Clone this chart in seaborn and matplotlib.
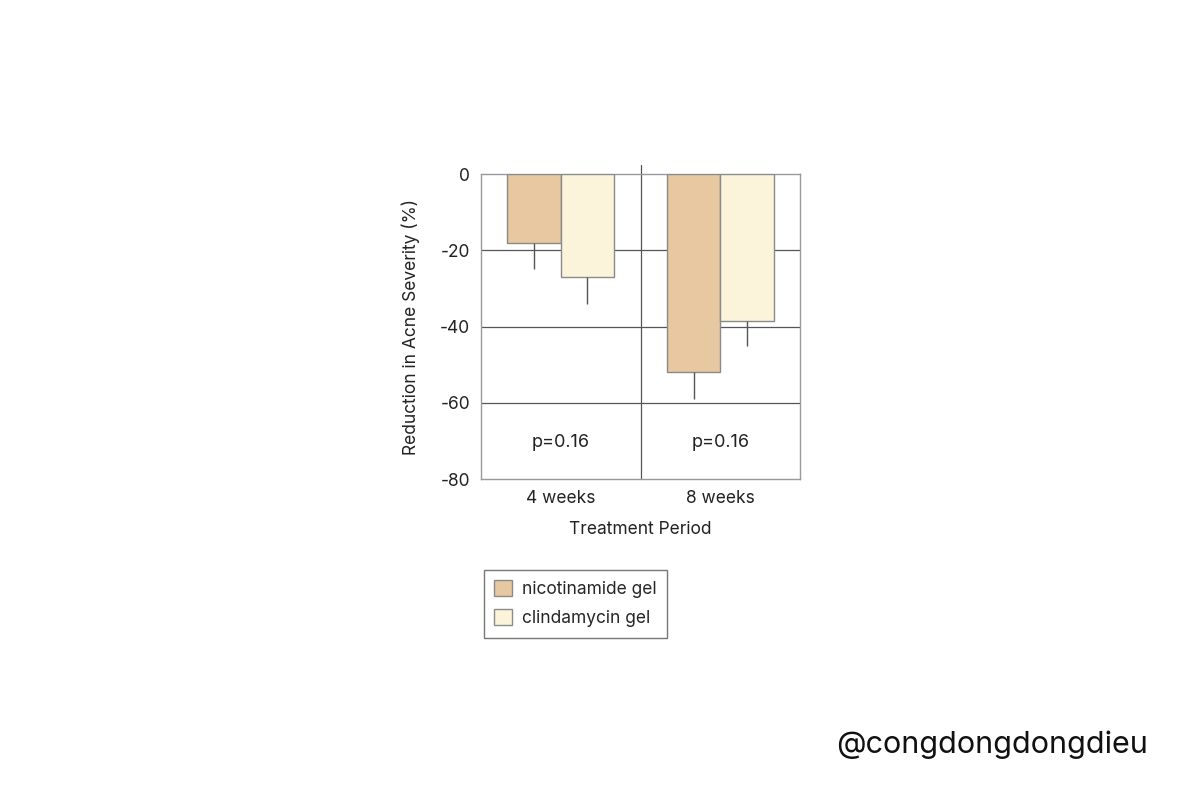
import matplotlib
matplotlib.use("Agg")
import matplotlib.pyplot as plt
import seaborn as sns
import pandas as pd
import numpy as np
from matplotlib.patches import Patch

periods = ["4 weeks", "8 weeks"]
treatments = ["nicotinamide gel", "clindamycin gel"]
nicotinamide = [-18, -52]
clindamycin = [-27, -38.5]
nicotinamide_err = [7, 7]
clindamycin_err = [7, 6.5]
p_values = ["p=0.16", "p=0.16"]
colors = ["#E7C8A0", "#FCF4DA"]

sns.set_theme(style="white")
plt.rcParams["font.family"] = ["Inter", "DejaVu Sans"]

df = pd.DataFrame({
    "period": periods * 2,
    "treatment": [treatments[0]] * 2 + [treatments[1]] * 2,
    "value": nicotinamide + clindamycin,
})

fig = plt.figure(figsize=(12.01, 8.01), dpi=100)
ax = fig.add_axes([481 / 1201, 1 - 479 / 801, 319 / 1201, 305 / 801])

sns.barplot(data=df, x="period", y="value", hue="treatment", hue_order=treatments,
            palette=colors, saturation=1, width=0.67, edgecolor="#8a8a8a", linewidth=1.0,
            errorbar=None, ax=ax, legend=False, zorder=3)

# one-sided error bars (downward)
errs = nicotinamide_err + clindamycin_err
vals = nicotinamide + clindamycin
for patch, v, e in zip(ax.patches, vals, errs):
    cx = patch.get_x() + patch.get_width() / 2
    ax.errorbar(cx, v, yerr=[[e], [0]], fmt="none", ecolor="#555555",
                elinewidth=1.0, capsize=0, zorder=4)

ax.set_ylim(-80, 0)
ax.set_xlim(-0.5, 1.5)
ax.set_yticks([0, -20, -40, -60, -80])
ax.set_yticklabels(["0", "-20", "-40", "-60", "-80"])
for y in [-20, -40, -60]:
    ax.axhline(y, color="#555555", linewidth=0.9, zorder=1)
ax.axvline(0.5, color="#555555", linewidth=0.9, zorder=1, ymax=1.03, clip_on=False)

for i, p in enumerate(p_values):
    ax.text(i, -70.5, p, ha="center", va="center", fontsize=13, color="#222222")

ax.set_xlabel("Treatment Period", fontsize=12.5, color="#222222", labelpad=10)
ax.set_ylabel("Reduction in Acne Severity (%)", fontsize=12.5, color="#222222", labelpad=14)
ax.tick_params(axis="both", length=0, labelsize=12.5, colors="#222222", pad=8)
for s in ax.spines.values():
    s.set_color("#999999")
    s.set_linewidth(1.0)

handles = [Patch(facecolor=c, edgecolor="#8a8a8a", label=t) for c, t in zip(colors, treatments)]
leg = fig.legend(handles=handles, loc="upper left", bbox_to_anchor=(484 / 1201, 1 - 570 / 801),
                 borderaxespad=0, frameon=True, fancybox=False, fontsize=12.5,
                 handlelength=1.0, handleheight=1.0,
                 borderpad=0.6, labelspacing=0.65, handletextpad=0.6)
leg.get_frame().set_edgecolor("#555555")
leg.get_frame().set_linewidth(1.0)

fig.text(1148 / 1201, 1 - 745 / 801, "@congdongdongdieu", ha="right", va="center",
         fontsize=22, color="#111111")

fig.savefig("out.png", dpi=100, facecolor="white")
